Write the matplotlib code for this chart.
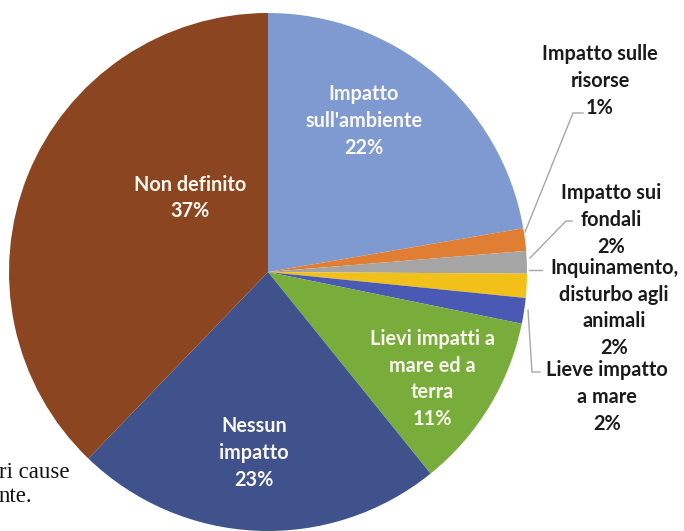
import matplotlib
matplotlib.use("Agg")
import matplotlib.pyplot as plt

# ---- data ----
categories = [
    "Impatto\nsull'ambiente",
    "Impatto sulle\nrisorse",
    "Impatto sui\nfondali",
    "Inquinamento,\ndisturbo agli\nanimali",
    "Lieve impatto\na mare",
    "Lievi impatti a\nmare ed a\nterra",
    "Nessun\nimpatto",
    "Non definito",
]
values = [22.3, 1.4, 1.4, 1.5, 1.6, 11.0, 23.0, 37.8]
pct_labels = ["22%", "1%", "2%", "2%", "2%", "11%", "23%", "37%"]
colors = ["#7f9ad0", "#e07f34", "#a5a5a5", "#f1c11a", "#4a5ab4",
          "#78ad3c", "#3f528c", "#8b4520"]

W, H = 684, 531
fig = plt.figure(figsize=(W / 100, H / 100), dpi=100)
ax = fig.add_axes([0, 0, 1, 1])

def Y(y):
    return H - y

cx, cy, r = 268, 272, 259
ax.pie(values, colors=colors, startangle=90, counterclock=False,
       center=(cx, Y(cy)), radius=r,
       wedgeprops=dict(linewidth=0, antialiased=True))
ax.set_xlim(0, W)
ax.set_ylim(0, H)
ax.set_aspect("equal")
ax.axis("off")

font = dict(family=["Lato", "DejaVu Sans"], fontweight="bold", fontsize=14.3,
            ha="center", va="center", linespacing=1.42)

# inside labels
inside = {0: (364, 121), 5: (432, 379), 6: (254, 453), 7: (190, 198)}
for i, (x, y) in inside.items():
    ax.text(x, Y(y), categories[i] + "\n" + pct_labels[i], color="#fbf8f0", **font)

# outside labels
outside = {1: (600, 81), 2: (611, 220), 3: (614, 308), 4: (607, 397)}
for i, (x, y) in outside.items():
    ax.text(x, Y(y), categories[i] + "\n" + pct_labels[i], color="#1a1a1a", **font)

# leader lines
leaders = [
    [(583, 113), (573, 113), (525, 232)],
    [(572, 221), (566, 221), (530, 258)],
    [(542, 270), (529, 270)],
    [(540, 372), (532, 372), (528, 310)],
]
for pts in leaders:
    xs = [p[0] for p in pts]
    ys = [Y(p[1]) for p in pts]
    ax.plot(xs, ys, color="#a6a6a6", linewidth=1.0, zorder=5)

# stray text from the source page
serif = dict(family=["Liberation Serif", "DejaVu Serif"], fontsize=16.5,
             ha="left", va="baseline", color="#111111", zorder=6)
ax.text(-1, Y(478), "ri cause", **serif)
ax.text(-1, Y(502), "nte.", **serif)

fig.savefig("out.png", dpi=100)
